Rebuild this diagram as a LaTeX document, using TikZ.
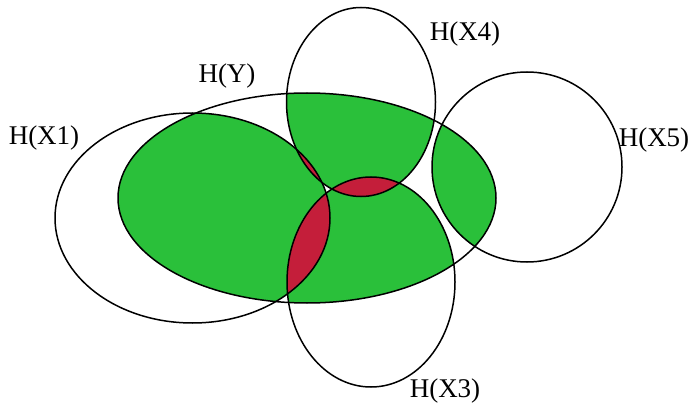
\documentclass[tikz,border=0pt]{standalone}
\usepackage{fontspec}
\setmainfont{Liberation Serif}
\usepackage{tikz}
\usetikzlibrary{positioning}
\definecolor{onecol}{RGB}{42,192,58}
\definecolor{twocol}{RGB}{196,30,58}

% Entropy sets
\def\setY{(307,198) ellipse [x radius=189pt, y radius=105pt]}
\def\setXone{(192.5,218) ellipse [x radius=137.5pt, y radius=105pt]}
\def\setXthree{(371,282) ellipse [x radius=84pt, y radius=105pt]}
\def\setXfour{(361,102) ellipse [x radius=74.5pt, y radius=94.5pt]}
\def\setXfive{(527,167) circle [radius=95pt]}

\begin{document}
\begin{tikzpicture}[x=1pt, y=-1pt,
  lbl/.style={font=\fontsize{27}{27}\selectfont, inner sep=0pt},
  outline/.style={draw=black, line width=1.5pt},
]
\useasboundingbox (0,0) rectangle (693,406);

% Y covered by one X
\begin{scope}
  \clip \setY;
  \fill[onecol] \setXone;
  \fill[onecol] \setXthree;
  \fill[onecol] \setXfour;
  \fill[onecol] \setXfive;
\end{scope}

% Y covered by two X
\begin{scope}
  \clip \setY; \clip \setXone;
  \fill[twocol] \setXthree;
  \fill[twocol] \setXfour;
\end{scope}
\begin{scope}
  \clip \setY; \clip \setXthree;
  \fill[twocol] \setXfour;
\end{scope}

% Outlines
\draw[outline] \setY;
\draw[outline] \setXone;
\draw[outline] \setXthree;
\draw[outline] \setXfour;
\draw[outline] \setXfive;

% Labels
\node[lbl] (lblX1) at (44,138) {H(X1)};
\node[lbl] (lblY) at (227,76) {H(Y)};
\node[lbl] (lblX4) at (465,34) {H(X4)};
\node[lbl] (lblX5) at (654,140) {H(X5)};
\node[lbl] (lblX3) at (445,391) {H(X3)};
\end{tikzpicture}
\end{document}
